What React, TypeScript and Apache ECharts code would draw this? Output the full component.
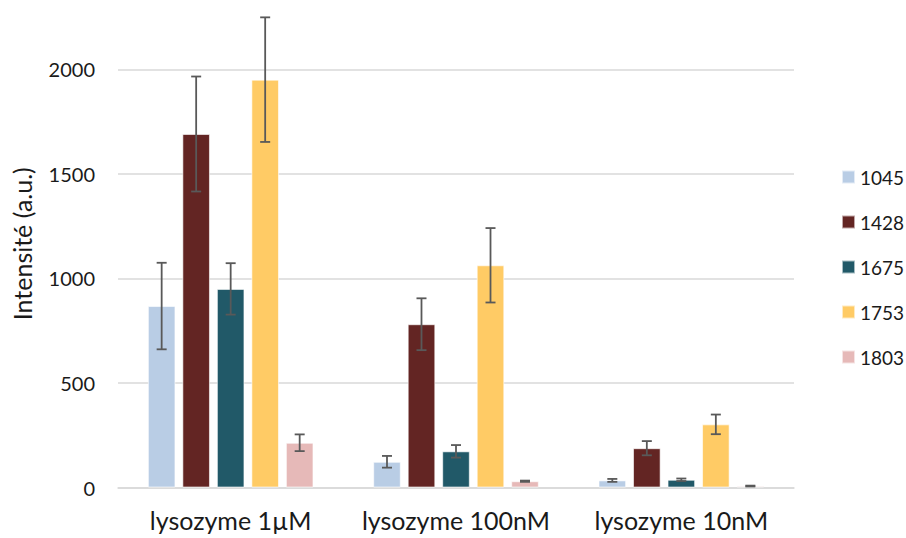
import React, { useEffect, useRef } from "react";
import * as echarts from "echarts";

const categories = ["lysozyme 1µM", "lysozyme 100nM", "lysozyme 10nM"];
const seriesNames = ["1045", "1428", "1675", "1753", "1803"];
const seriesColors = ["#B9CDE5", "#632523", "#215968", "#FFCB65", "#E6B9B8"];
const values1045 = [868, 123, 34];
const values1428 = [1691, 781, 188];
const values1675 = [950, 173, 37];
const values1753 = [1951, 1063, 302];
const values1803 = [214, 30, 7];
const errors1045 = [207, 28, 7];
const errors1428 = [275, 124, 34];
const errors1675 = [123, 30, 6];
const errors1753 = [298, 178, 47];
const errors1803 = [40, 3, 2];
const yTicks = { min: 0, max: 2332, interval: 500 };

const allValues = [values1045, values1428, values1675, values1753, values1803];
const allErrors = [errors1045, errors1428, errors1675, errors1753, errors1803];

const FONT = "Lato, 'Open Sans', sans-serif";
const CAT_GAP = 0.265;
const BAR_GAP = 0.25;

export default function App() {
  const ref = useRef<HTMLDivElement>(null);
  useEffect(() => {
    document.body.style.margin = "0";
    if (!ref.current) return;
    const chart = echarts.init(ref.current, undefined, { renderer: "svg" });
    const n = seriesNames.length;
    const errData: number[][] = [];
    allValues.forEach((vals, s) => {
      vals.forEach((v, c) => errData.push([c, v, allErrors[s][c], s]));
    });
    const barSeries = seriesNames.map((name, s) => ({
      name,
      type: "bar",
      data: allValues[s],
      barGap: BAR_GAP * 100 + "%",
      barCategoryGap: CAT_GAP * 100 + "%",
      itemStyle: { color: seriesColors[s], borderColor: "rgba(255,255,255,0.6)", borderWidth: 1 },
      emphasis: { disabled: true },
    }));
    const errSeries = {
      type: "custom",
      data: errData,
      encode: { x: 0, y: 1 },
      z: 10,
      silent: true,
      clip: false,
      renderItem: (params: any, api: any) => {
        const c = api.value(0);
        const v = api.value(1);
        const e = api.value(2);
        const s = api.value(3);
        const catW = api.size([1, 0])[0];
        const bw = (catW * (1 - CAT_GAP)) / (n + (n - 1) * BAR_GAP);
        const pitch = bw * (1 + BAR_GAP);
        const center = api.coord([c, v]);
        const x = center[0] + (s - (n - 1) / 2) * pitch;
        const yTop = api.coord([c, v + e])[1];
        const yBot = api.coord([c, Math.max(0, v - e)])[1];
        const cap = 5;
        const style = { stroke: "#595959", lineWidth: 1.8 };
        return {
          type: "group",
          children: [
            { type: "line", shape: { x1: x, y1: yTop, x2: x, y2: yBot }, style },
            { type: "line", shape: { x1: x - cap, y1: yTop, x2: x + cap, y2: yTop }, style },
            { type: "line", shape: { x1: x - cap, y1: yBot, x2: x + cap, y2: yBot }, style },
          ],
        };
      },
    };
    chart.setOption({
      animation: false,
      textStyle: { fontFamily: FONT },
      grid: { left: 118, right: 112, top: 0, bottom: 50.5, containLabel: false },
      legend: {
        data: seriesNames,
        orient: "vertical",
        left: 836,
        top: 161,
        itemWidth: 13,
        itemHeight: 13,
        itemGap: 23,
        icon: "rect",
        textStyle: { fontSize: 19, color: "#1a1a1a", fontFamily: FONT, lineHeight: 22 },
        selectedMode: false,
      },
      xAxis: {
        type: "category",
        data: categories,
        axisLine: { lineStyle: { color: "#D9D9D9", width: 1.5 } },
        axisTick: { show: false },
        axisLabel: { interval: 0, hideOverlap: false, fontSize: 25, color: "#1a1a1a", fontFamily: FONT, margin: 20 },
      },
      yAxis: {
        type: "value",
        min: yTicks.min,
        max: yTicks.max,
        interval: yTicks.interval,
        name: "Intensité (a.u.)",
        nameLocation: "middle",
        nameRotate: 90,
        nameGap: 84,
        nameTextStyle: { fontSize: 25, color: "#1a1a1a", fontFamily: FONT },
        axisLine: { show: false },
        axisTick: { show: false },
        axisLabel: {
          fontSize: 20,
          color: "#1a1a1a",
          fontFamily: FONT,
          margin: 23,
          showMaxLabel: false,
          formatter: (v: number) => (v % yTicks.interval === 0 ? String(v) : ""),
        },
        splitLine: { showMaxLine: false, lineStyle: { color: "#D9D9D9", width: 1.5 } },
      },
      series: [...barSeries, errSeries],
    });
    return () => chart.dispose();
  }, []);
  return <div ref={ref} style={{ width: 906, height: 538 }} />;
}
